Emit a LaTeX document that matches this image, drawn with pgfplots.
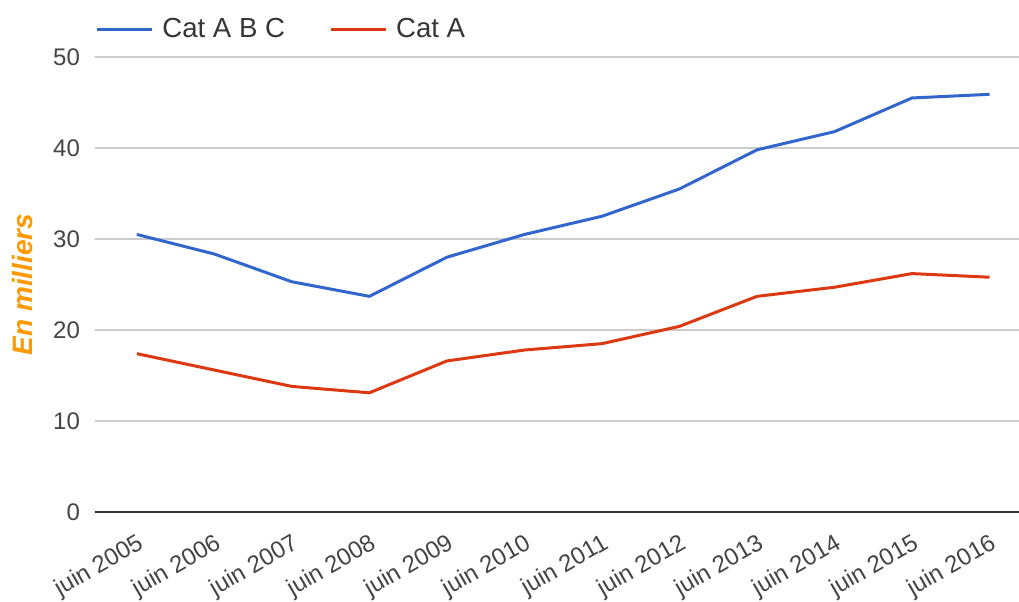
\documentclass[border=0pt]{standalone}
\usepackage{pgfplots}
\pgfplotsset{compat=1.18}
\usepackage{fontspec}
\setmainfont{Liberation Sans}
\definecolor{cblue}{HTML}{3366CC}
\definecolor{cred}{HTML}{DC3912}
\definecolor{cgrid}{HTML}{CCCCCC}
\definecolor{ctext}{HTML}{444444}
\definecolor{corange}{HTML}{FF9900}
\begin{document}
\begin{tikzpicture}
\path[use as bounding box] (-47.5pt,-44.5pt) rectangle (462pt,256pt);
\begin{axis}[
  at={(0,0)}, anchor=south west,
  scale only axis, width=462pt, height=227.5pt,
  xmin=-0.54, xmax=11.38, ymin=0, ymax=50,
  xtick={0,...,11},
  xticklabels={juin 2005,juin 2006,juin 2007,juin 2008,juin 2009,juin 2010,juin 2011,juin 2012,juin 2013,juin 2014,juin 2015,juin 2016},
  ytick={0,10,20,30,40,50},
  axis line style={draw=none},
  axis x line*=bottom, axis y line*=left,
  major tick length=0pt,
  ymajorgrids, grid style={cgrid, line width=1pt},
  tick label style={font=\fontsize{12}{14}\selectfont, text=ctext},
  /pgf/number format/assume math mode=true,
  yticklabel style={xshift=-4pt},
  xticklabel style={rotate=30, anchor=north east, yshift=-5pt, xshift=-2pt},
  ylabel={\bfseries\itshape En milliers},
  every axis y label/.style={at={(axis description cs:-0.079,0.5)}, rotate=90, anchor=center, font=\fontsize{14}{16}\selectfont, text=corange},
  legend columns=2,
  legend style={draw=none, fill=none, at={(axis description cs:0,1)}, anchor=south west, yshift=4pt, xshift=-3pt, font=\fontsize{13.8}{16}\selectfont, text=ctext!80!black, /tikz/every odd column/.append style={column sep=2.5pt}, /tikz/every even column/.append style={column sep=20pt}},
  legend image code/.code={\draw[#1, line width=1.5pt] (0pt,0pt) -- (27.5pt,0pt);},
]
\draw[color=black!80, line width=1.5pt] (axis cs:-0.54,0) -- (axis cs:11.38,0);
\addplot[cblue, line width=1.5pt] coordinates {
(0,30.5)(1,28.35)(2,25.3)(3,23.7)(4,28.0)(5,30.5)(6,32.5)(7,35.5)(8,39.8)(9,41.8)(10,45.5)(11,45.9)};
\addlegendentry{Cat A B C}
\addplot[cred, line width=1.5pt] coordinates {
(0,17.4)(1,15.6)(2,13.8)(3,13.1)(4,16.6)(5,17.8)(6,18.5)(7,20.4)(8,23.7)(9,24.7)(10,26.2)(11,25.8)};
\addlegendentry{Cat A}
\end{axis}
\end{tikzpicture}
\end{document}
